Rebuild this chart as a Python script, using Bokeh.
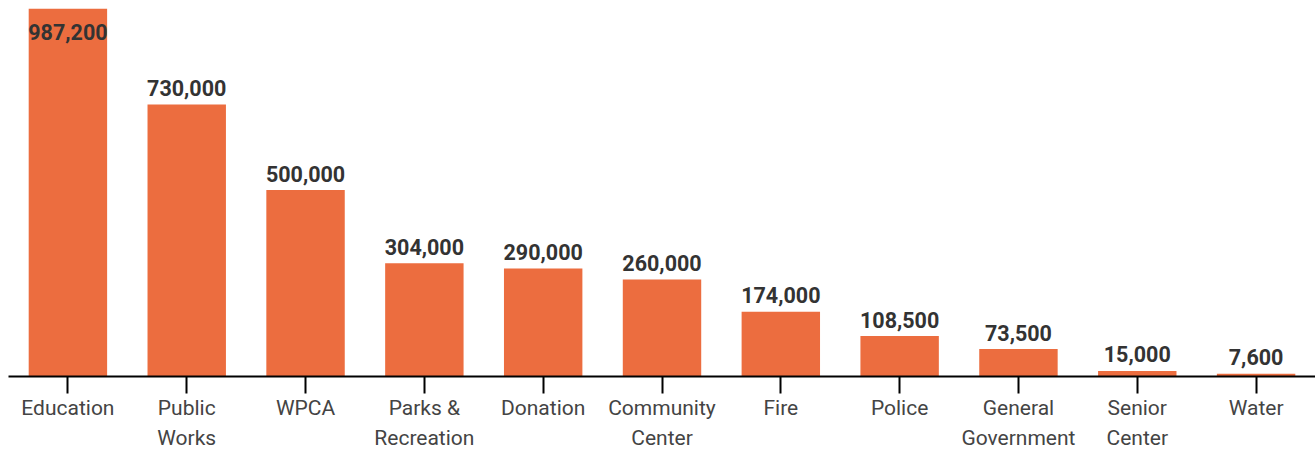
from bokeh.plotting import figure
from bokeh.models import ColumnDataSource, Range1d, FactorRange
from bokeh.core.properties import value
from bokeh.embed import file_html
from bokeh.resources import INLINE

categories = ["Education", "Public\nWorks", "WPCA", "Parks &\nRecreation", "Donation",
              "Community\nCenter", "Fire", "Police", "General\nGovernment",
              "Senior\nCenter", "Water"]
amounts = [987200, 730000, 500000, 304000, 290000, 260000, 174000, 108500, 73500, 15000, 7600]

top = max(amounts)
labels = [f"{v:,}" for v in amounts]
offsets = [23.5 if v == top else -16.5 for v in amounts]

src = ColumnDataSource(dict(x=categories, v=amounts, lab=labels, off=offsets))

p = figure(width=1315, height=453, output_backend="svg", toolbar_location=None,
           x_range=FactorRange(factors=categories, range_padding=0),
           y_range=Range1d(0, top),
           y_axis_location=None, min_border_left=8, min_border_right=0,
           min_border_top=8, min_border_bottom=0)
p.outline_line_color = None
p.grid.visible = False

p.vbar(x="x", top="v", bottom=0, width=0.66, source=src,
       fill_color="#ec6d3f", line_color=None)

p.text(x="x", y="v", text="lab", source=src, y_offset="off",
       text_align="center", text_baseline="alphabetic",
       text_font=value("Roboto"), text_font_style="bold",
       text_font_size="21.5px", text_color="#333333")

ax = p.xaxis[0]
ax.axis_line_color = "black"
ax.axis_line_width = 2
ax.major_tick_line_color = "black"
ax.major_tick_line_width = 2
ax.major_tick_out = 17
ax.major_tick_in = 0
ax.minor_tick_line_color = None
ax.major_label_standoff = 2
ax.major_label_text_font = "Roboto"
ax.major_label_text_font_size = "21px"
ax.major_label_text_color = "#444444"
ax.major_label_text_line_height = 1.29

open("out.html", "w").write(file_html(p, INLINE))
